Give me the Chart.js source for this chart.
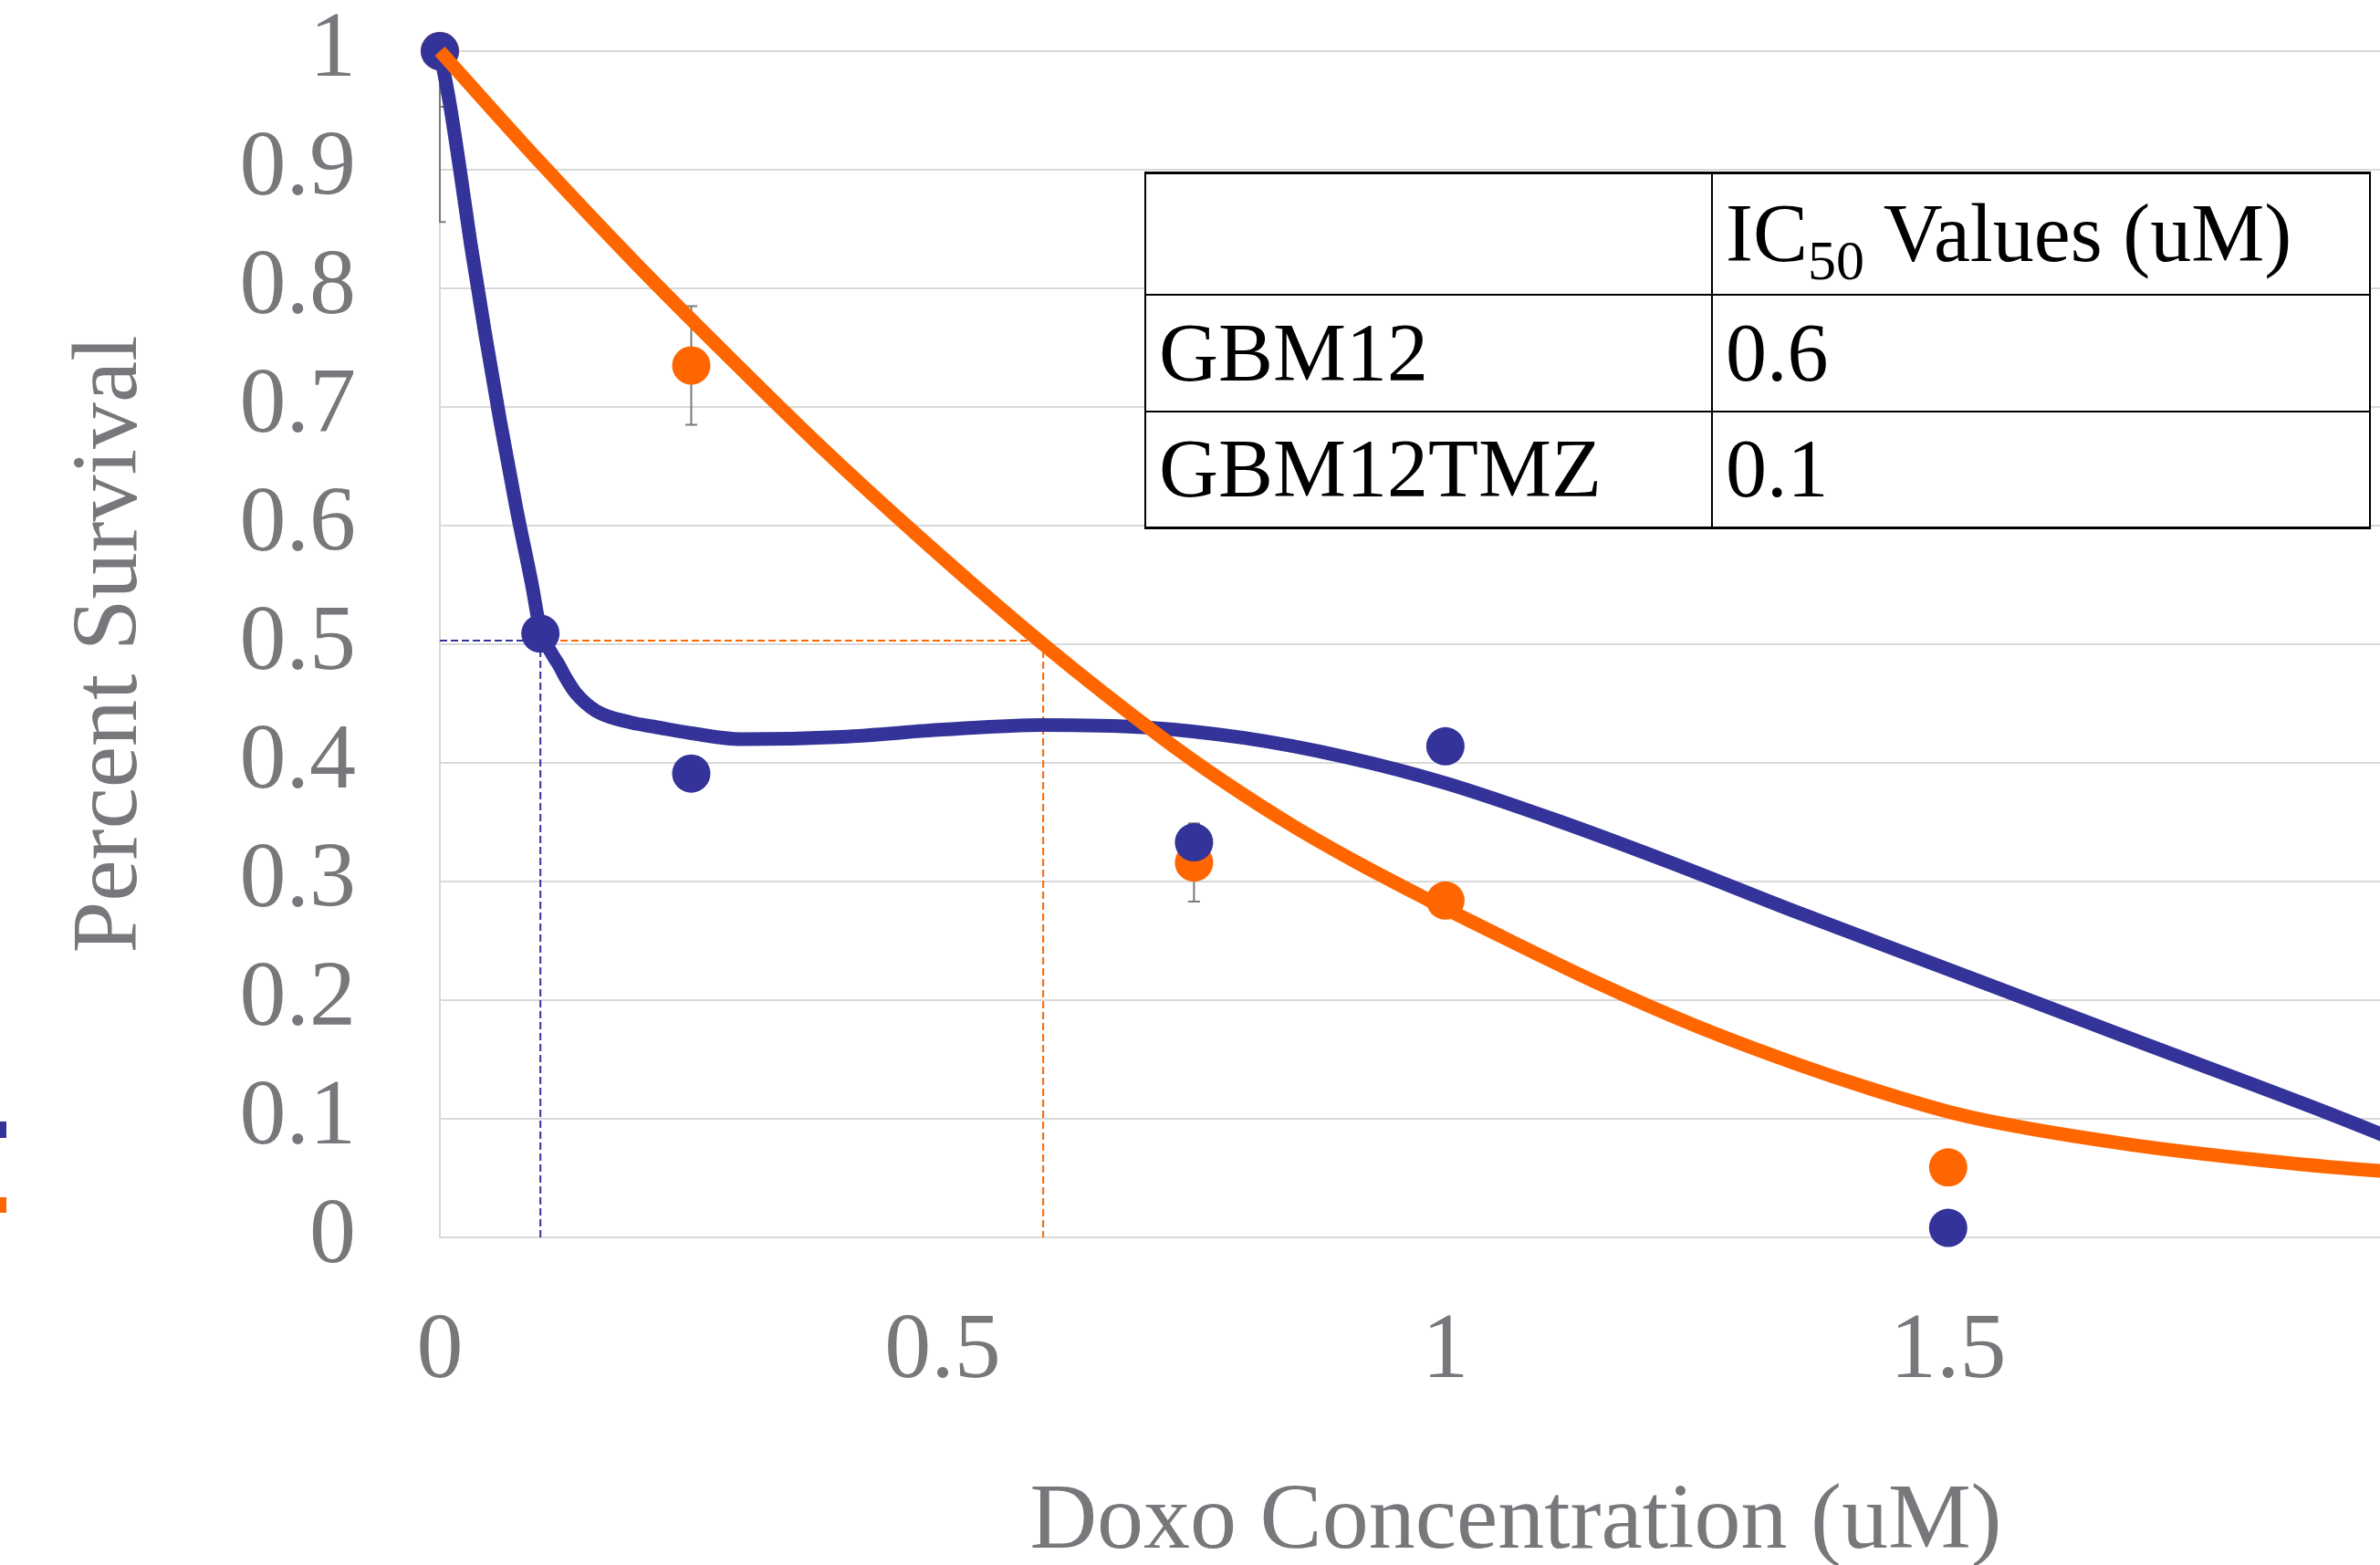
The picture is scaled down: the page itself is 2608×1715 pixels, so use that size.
<!DOCTYPE html>
<html>
<head>
<meta charset="utf-8">
<script src="https://cdn.jsdelivr.net/npm/chart.js@4.4.1/dist/chart.umd.min.js"></script>
<style>
html,body{margin:0;padding:0;background:#fff;overflow:hidden;width:2608px;height:1715px}
#wrap{position:relative;width:2608px;height:1715px;overflow:hidden;background:#fff}
#c{position:absolute;left:0;top:0}
#ic50{position:absolute;left:1254px;top:188px;border-collapse:collapse;font-family:"Liberation Serif","Times New Roman",serif;font-size:90px;color:#000;background:#fff}
#ic50 td{border:2px solid #000;padding:0 0 0 14px;vertical-align:middle;line-height:1;white-space:nowrap;box-sizing:border-box}
#ic50 tr:first-child td{border-top-width:3px}
#ic50 tr:last-child td{border-bottom-width:3px}
#ic50 sub{font-size:62px;vertical-align:-20px;line-height:0}
.lg{position:absolute;left:0;width:7px}
</style>
</head>
<body>
<div id="wrap">
<canvas id="c" width="2861" height="1715"></canvas>
<table id="ic50">
<tr style="height:133px"><td style="width:621px"></td><td style="width:721px">IC<sub>50</sub> Values (uM)</td></tr>
<tr style="height:128px"><td id="r1n"></td><td id="r1v"></td></tr>
<tr style="height:128px"><td id="r2n"></td><td id="r2v"></td></tr>
</table>
<div class="lg" style="top:1229px;height:18px;background:#333399"></div>
<div class="lg" style="top:1312px;height:17px;background:#FF6600"></div>
</div>
<script>
// ---------- data ----------
const seriesNames = ['GBM12', 'GBM12TMZ'];
const ic50Values = [0.6, 0.1];
const ic50Level = 0.503;

const concGBM12 = [0, 0.25, 0.75, 1, 1.5];
const survGBM12 = [1, 0.735, 0.316, 0.284, 0.059];
const errGBM12  = [0.047, 0.05, 0.033, 0.01, 0.01];

const concTMZ = [0, 0.1, 0.25, 0.75, 1, 1.5];
const survTMZ = [1, 0.509, 0.391, 0.333, 0.414, 0.008];
const errTMZ  = [0.144, 0.01, 0.01, 0.01, 0.01, 0.005];

// fitted curves
const fitXGBM12 = [0, 0.1, 0.196, 0.29, 0.377, 0.48, 0.6, 0.72, 0.78, 0.85, 0.91, 0.982, 1.043, 1.15, 1.25, 1.35, 1.424, 1.5, 1.553, 1.683, 1.812, 1.931, 1.96];
const fitYGBM12 = [1, 0.906, 0.82, 0.74, 0.668, 0.588, 0.5, 0.42, 0.384, 0.346, 0.317, 0.285, 0.259, 0.215, 0.178, 0.146, 0.125, 0.106, 0.096, 0.078, 0.065, 0.056, 0.055];

const fitXTMZ = [0, 0.01, 0.02, 0.0306, 0.045, 0.06, 0.076, 0.0914, 0.1, 0.11, 0.1187, 0.125, 0.135, 0.155, 0.19, 0.216, 0.25, 0.3, 0.4, 0.5, 0.6, 0.7, 0.8, 0.9, 1.0, 1.106, 1.224, 1.35, 1.5, 1.68, 1.877, 1.96];
const fitYTMZ = [1, 0.955, 0.9, 0.838, 0.762, 0.688, 0.615, 0.551, 0.512, 0.494, 0.482, 0.472, 0.459, 0.444, 0.434, 0.43, 0.425, 0.42, 0.422, 0.428, 0.432, 0.43, 0.421, 0.405, 0.383, 0.353, 0.316, 0.274, 0.226, 0.168, 0.105, 0.077];

const xTickValues = [0, 0.5, 1, 1.5];
const xTickLabels = ['0', '0.5', '1', '1.5'];
const yTickValues = [0, 0.1, 0.2, 0.3, 0.4, 0.5, 0.6, 0.7, 0.8, 0.9, 1];
const yTickLabels = ['0', '0.1', '0.2', '0.3', '0.4', '0.5', '0.6', '0.7', '0.8', '0.9', '1'];

const xTitle = 'Doxo Concentration (uM)';
const yTitle = 'Percent Survival';

// ---------- table text ----------
document.getElementById('r1n').textContent = seriesNames[0];
document.getElementById('r1v').textContent = String(ic50Values[0]);
document.getElementById('r2n').textContent = seriesNames[1];
document.getElementById('r2v').textContent = String(ic50Values[1]);

// ---------- chart ----------
const ORANGE = '#FF6600', BLUE = '#333399', GREY = '#77787B', GRID = '#D9D9D9';
const FONT = '"Liberation Serif", "Times New Roman", serif';
const pts = (xs, ys) => xs.map((x, i) => ({x: x, y: ys[i]}));
const ic50Path = (v) => [{x: 0, y: ic50Level}, {x: v, y: ic50Level}, {x: v, y: 0}];

const errorBars = {
  id: 'errorBars',
  beforeDatasetsDraw(chart) {
    const {ctx, chartArea: a, scales: {x, y}} = chart;
    ctx.save();
    ctx.beginPath();
    ctx.rect(a.left - 1, a.top, a.right - a.left + 1, a.bottom - a.top);
    ctx.clip();
    ctx.strokeStyle = '#7A7A7A';
    ctx.lineWidth = 2;
    chart.data.datasets.forEach(ds => {
      if (!ds.errors) return;
      ds.data.forEach((p, i) => {
        const e = ds.errors[i];
        if (!e) return;
        const px = x.getPixelForValue(p.x);
        const y1 = y.getPixelForValue(p.y + e), y2 = y.getPixelForValue(p.y - e);
        ctx.beginPath();
        ctx.moveTo(px, y1); ctx.lineTo(px, y2);
        ctx.moveTo(px - 6.5, y1); ctx.lineTo(px + 6.5, y1);
        ctx.moveTo(px - 6.5, y2); ctx.lineTo(px + 6.5, y2);
        ctx.stroke();
      });
    });
    ctx.restore();
  }
};

new Chart(document.getElementById('c'), {
  type: 'scatter',
  data: {
    datasets: [
      {label: seriesNames[0] + ' fit', data: pts(fitXGBM12, fitYGBM12), showLine: true, borderColor: ORANGE, borderWidth: 15, pointRadius: 0, cubicInterpolationMode: 'monotone', borderJoinStyle: 'round', order: 0, clip: false},
      {label: seriesNames[1] + ' fit', data: pts(fitXTMZ, fitYTMZ), showLine: true, borderColor: BLUE, borderWidth: 15, pointRadius: 0, cubicInterpolationMode: 'monotone', borderJoinStyle: 'round', order: 1, clip: false},
      {label: seriesNames[1], data: pts(concTMZ, survTMZ), errors: errTMZ, backgroundColor: BLUE, borderWidth: 0, pointRadius: 21, order: 2, clip: false},
      {label: seriesNames[0], data: pts(concGBM12, survGBM12), errors: errGBM12, backgroundColor: ORANGE, borderWidth: 0, pointRadius: 21, order: 3, clip: false},
      {label: seriesNames[1] + ' IC50', data: ic50Path(ic50Values[1]), showLine: true, borderColor: BLUE, borderWidth: 2, borderDash: [8, 4], pointRadius: 0, tension: 0, order: 4},
      {label: seriesNames[0] + ' IC50', data: ic50Path(ic50Values[0]), showLine: true, borderColor: ORANGE, borderWidth: 2, borderDash: [8, 4], pointRadius: 0, tension: 0, order: 5}
    ]
  },
  options: {
    responsive: false,
    animation: false,
    events: [],
    layout: {padding: {top: 56, left: 0, right: 0, bottom: 0}},
    plugins: {legend: {display: false}, tooltip: {enabled: false}},
    scales: {
      x: {
        type: 'linear', min: 0, max: 2.14,
        afterBuildTicks: s => { s.ticks = xTickValues.map(v => ({value: v})); },
        afterFit: s => { s.height = 359; s.paddingLeft = 0; s.paddingRight = 0; },
        grid: {display: false, drawTicks: false},
        border: {display: true, color: GRID, width: 2},
        ticks: {padding: 65, color: GREY, font: {family: FONT, size: 102, lineHeight: 1.2}, maxRotation: 0, callback: (v, i) => xTickLabels[i]},
        title: {display: true, text: xTitle, color: GREY, font: {family: FONT, size: 102, lineHeight: 0.9}, padding: {top: 0, bottom: 0}}
      },
      y: {
        type: 'linear', min: 0, max: 1,
        afterBuildTicks: s => { s.ticks = yTickValues.map(v => ({value: v})); },
        afterFit: s => { s.width = 482; s.paddingTop = 0; s.paddingBottom = 0; },
        grid: {display: true, color: GRID, lineWidth: 2, drawTicks: false},
        border: {display: true, color: GRID, width: 2},
        ticks: {padding: 92, color: GREY, font: {family: FONT, size: 102, lineHeight: 1}, callback: (v, i) => yTickLabels[i]},
        title: {display: true, text: yTitle, color: GREY, font: {family: FONT, size: 102, lineHeight: 1.2}, padding: {top: 61, bottom: 0}}
      }
    }
  },
  plugins: [errorBars]
});
</script>
</body>
</html>
